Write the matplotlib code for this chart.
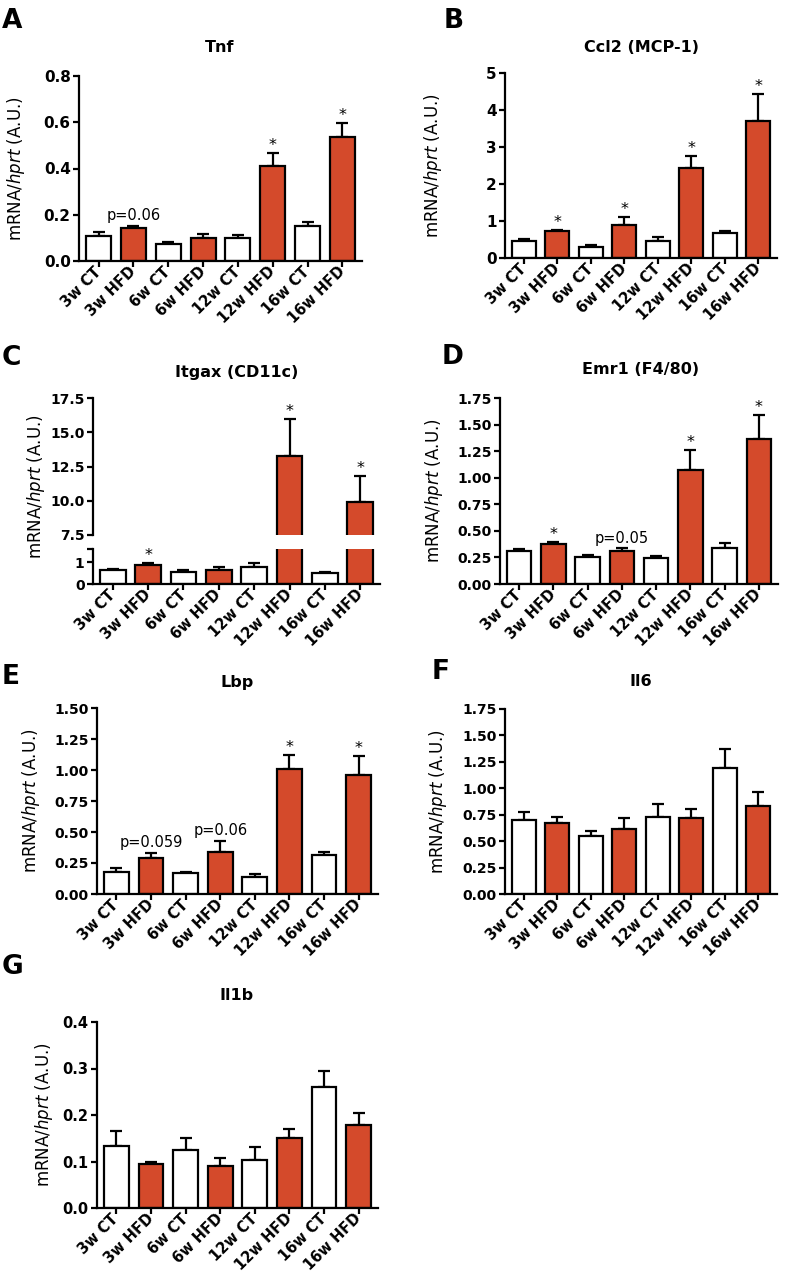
import numpy as np
import matplotlib
matplotlib.use('Agg')
import matplotlib.pyplot as plt

plt.rcParams['font.family'] = ['DejaVu Sans']
plt.rcParams['mathtext.fontset'] = 'dejavusans'

groups = ['3w CT', '3w HFD', '6w CT', '6w HFD', '12w CT', '12w HFD', '16w CT', '16w HFD']

tnf_mean = [0.110, 0.143, 0.075, 0.100, 0.100, 0.410, 0.150, 0.535]
tnf_sem = [0.014, 0.008, 0.009, 0.015, 0.012, 0.058, 0.020, 0.063]
tnf_marks = {1: 'p=0.06', 5: '*', 7: '*'}

ccl2_mean = [0.45, 0.73, 0.31, 0.89, 0.45, 2.42, 0.67, 3.69]
ccl2_sem = [0.07, 0.04, 0.03, 0.22, 0.11, 0.35, 0.05, 0.74]
ccl2_marks = {1: '*', 3: '*', 5: '*', 7: '*'}

itgax_mean = [0.66, 0.88, 0.57, 0.62, 0.79, 13.29, 0.50, 9.90]
itgax_sem = [0.04, 0.07, 0.05, 0.14, 0.18, 2.71, 0.07, 1.93]
itgax_marks = {1: '*', 5: '*', 7: '*'}

emr1_mean = [0.313, 0.373, 0.254, 0.313, 0.240, 1.077, 0.338, 1.368]
emr1_sem = [0.017, 0.022, 0.016, 0.022, 0.023, 0.182, 0.044, 0.219]
emr1_marks = {1: '*', 3: 'p=0.05', 5: '*', 7: '*'}

lbp_mean = [0.180, 0.288, 0.167, 0.342, 0.140, 1.010, 0.312, 0.961]
lbp_sem = [0.033, 0.043, 0.013, 0.088, 0.019, 0.113, 0.030, 0.151]
lbp_marks = {1: 'p=0.059', 3: 'p=0.06', 5: '*', 7: '*'}

il6_mean = [0.700, 0.669, 0.552, 0.618, 0.728, 0.722, 1.195, 0.829]
il6_sem = [0.076, 0.056, 0.048, 0.098, 0.127, 0.082, 0.177, 0.133]

il1b_mean = [0.133, 0.094, 0.125, 0.091, 0.103, 0.150, 0.261, 0.178]
il1b_sem = [0.033, 0.006, 0.026, 0.016, 0.028, 0.019, 0.034, 0.026]

RED = '#D44A2B'
W, H = 787, 1279
fig = plt.figure(figsize=(W / 100, H / 100), dpi=100)


def px_axes(left, top, right, bottom):
    return fig.add_axes([left / W, 1 - bottom / H, (right - left) / W, (bottom - top) / H])


def px_text(x, y, s, **kw):
    fig.text(x / W, 1 - y / H, s, **kw)


def style(ax, fs, xlabels=True):
    for side in ['top', 'right']:
        ax.spines[side].set_visible(False)
    for side in ['left', 'bottom']:
        ax.spines[side].set_linewidth(1.6)
    ax.tick_params(width=1.6, length=4, labelsize=fs, pad=2)
    ax.set_xlim(-0.56, len(groups) - 0.44)
    ax.set_xticks(np.arange(len(groups)))
    if xlabels:
        ax.set_xticklabels(groups, rotation=45, ha='right', va='center',
                           rotation_mode='anchor', fontsize=10.5, fontweight='bold')
    for lab in ax.get_yticklabels():
        lab.set_fontweight('bold')


def bars(ax, mean, sem):
    x = np.arange(len(groups))
    colors = [RED if 'HFD' in g else 'white' for g in groups]
    ax.errorbar(x, mean, yerr=[np.zeros(len(mean)), sem], fmt='none', ecolor='black',
                elinewidth=1.6, capsize=4, capthick=1.6, zorder=1)
    ax.bar(x, mean, width=0.72, color=colors, edgecolor='black', linewidth=1.6, zorder=2)


def marks(ax, mean, sem, labels):
    for i, txt in labels.items():
        top = mean[i] + sem[i]
        if txt == '*':
            ax.annotate('*', (i, top), xytext=(0, 0), textcoords='offset points',
                        ha='center', va='bottom', fontsize=11.5)
        else:
            ax.annotate(txt, (i, top), xytext=(0, 2), textcoords='offset points',
                        ha='center', va='bottom', fontsize=10.5)


ylab = r'mRNA/$\mathit{hprt}$ (A.U.)'


def panel(rect, mean, sem, labels, ylim, yticks, fmt, fs, label_x):
    ax = px_axes(*rect)
    bars(ax, mean, sem)
    ax.set_ylim(*ylim)
    ax.set_yticks(yticks)
    ax.set_yticklabels([fmt % v for v in yticks])
    style(ax, fs)
    marks(ax, mean, sem, labels)
    ax.set_ylabel(ylab, fontsize=12)
    ax.yaxis.set_label_coords(label_x, 0.5)
    return ax


# A
panel((79, 76, 362, 261), tnf_mean, tnf_sem, tnf_marks, (0, 0.8),
      [0, 0.2, 0.4, 0.6, 0.8], '%.1f', 11, -0.184)
# B
panel((505, 73, 777, 258), ccl2_mean, ccl2_sem, ccl2_marks, (0, 5),
      [0, 1, 2, 3, 4, 5], '%d', 11, -0.224)
# D
panel((500, 398, 778, 584), emr1_mean, emr1_sem, emr1_marks, (0, 1.75),
      [0, 0.25, 0.5, 0.75, 1.0, 1.25, 1.5, 1.75], '%.2f', 10, -0.198)
# E
panel((97, 708, 378, 894), lbp_mean, lbp_sem, lbp_marks, (0, 1.5),
      [0, 0.25, 0.5, 0.75, 1.0, 1.25, 1.5], '%.2f', 10, -0.196)
# F
panel((505, 709, 777, 894), il6_mean, il6_sem, {}, (0, 1.75),
      [0, 0.25, 0.5, 0.75, 1.0, 1.25, 1.5, 1.75], '%.2f', 10, -0.206)
# G
panel((97, 1022, 378, 1208), il1b_mean, il1b_sem, {}, (0, 0.4),
      [0, 0.1, 0.2, 0.3, 0.4], '%.1f', 10.5, -0.149)

# C: broken axis
ax_hi = px_axes(93, 398, 380, 535)
ax_lo = px_axes(93, 549, 380, 584)
for ax in (ax_hi, ax_lo):
    bars(ax, itgax_mean, itgax_sem)
ax_hi.set_ylim(7.5, 17.5)
ax_hi.set_yticks([7.5, 10, 12.5, 15, 17.5])
ax_hi.set_yticklabels(['%.1f' % v for v in [7.5, 10, 12.5, 15, 17.5]])
style(ax_hi, 10, xlabels=False)
ax_hi.spines['bottom'].set_visible(False)
ax_hi.tick_params(axis='x', bottom=False, labelbottom=False)
ax_lo.set_ylim(0, 1.6)
ax_lo.set_yticks([0, 1, 1.6])
ax_lo.set_yticklabels(['0', '1', ''])
style(ax_lo, 10)
hi_marks = {i: t for i, t in itgax_marks.items() if itgax_mean[i] + itgax_sem[i] > 7.5}
lo_marks = {i: t for i, t in itgax_marks.items() if itgax_mean[i] + itgax_sem[i] <= 7.5}
marks(ax_hi, itgax_mean, itgax_sem, hi_marks)
marks(ax_lo, itgax_mean, itgax_sem, lo_marks)
px_text(36, 487, ylab, rotation=90, ha='center', va='center', fontsize=12)

# titles
titles = ['Tnf', 'Ccl2 (MCP-1)', 'Itgax (CD11c)', 'Emr1 (F4/80)', 'Lbp', 'Il6', 'Il1b']
title_xy = [(220, 48), (641, 47), (237, 372), (641, 370), (237, 682), (641, 682), (237, 995)]
for t, (x, y) in zip(titles, title_xy):
    px_text(x, y, t, ha='center', va='center', fontsize=11.5, fontweight='bold')

# panel letters
letters = ['A', 'B', 'C', 'D', 'E', 'F', 'G']
letter_xy = [(2, 21), (444, 21), (2, 358), (442, 357), (2, 677), (432, 672), (2, 967)]
for t, (x, y) in zip(letters, letter_xy):
    px_text(x, y, t, ha='left', va='center', fontsize=19, fontweight='bold')

fig.savefig('out.png', dpi=100)
